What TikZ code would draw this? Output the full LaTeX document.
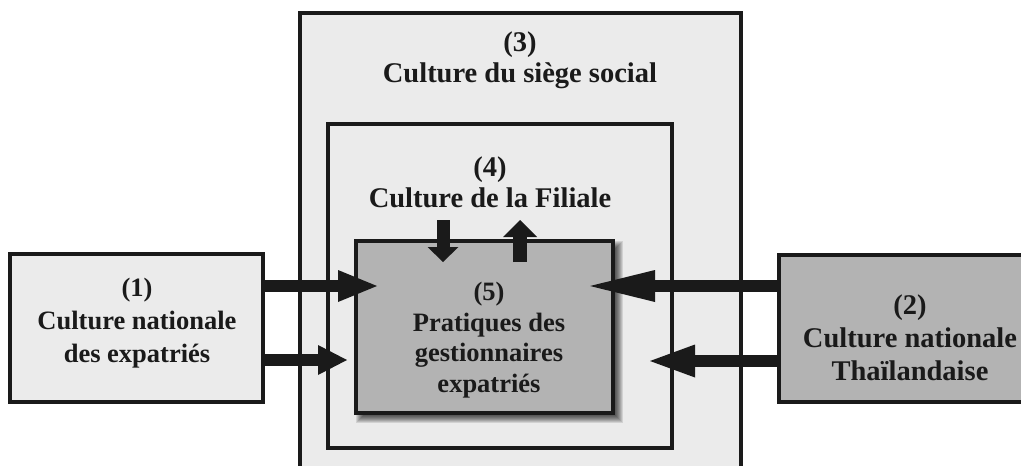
\documentclass[tikz,border=0pt]{standalone}
\usepackage{fontspec}
\setmainfont{Liberation Serif}
\usetikzlibrary{arrows.meta,calc}
\definecolor{paleface}{HTML}{EBEBEB}
\definecolor{greyface}{HTML}{B3B3B3}
\definecolor{ink}{HTML}{1A1A1A}
\pgfdeclarelayer{back}
\pgfdeclarelayer{shade}
\pgfsetlayers{back,shade,main}
\begin{document}
\begin{tikzpicture}[x=1pt,y=-1pt,
  frame/.style={draw=ink, line width=3.5pt, rectangle, inner sep=0pt, outer sep=0pt},
  pale/.style={frame, fill=paleface},
  dark/.style={frame, fill=greyface},
  bigtxt/.style={font=\bfseries\fontsize{28.5}{31}\selectfont, align=center, text=ink},
  widetxt/.style={font=\bfseries\fontsize{28.5}{33}\selectfont, align=center, text=ink},
  smalltxt/.style={font=\bfseries\fontsize{26.5}{33}\selectfont, align=center, text=ink},
  tighttxt/.style={font=\bfseries\fontsize{26.5}{30.5}\selectfont, align=center, text=ink},
  flow/.style={draw=ink, line width=12pt},
  upflow/.style={draw=ink, line width=14pt},
]
\useasboundingbox (0,0) rectangle (1021,466);
\clip (0,0) rectangle (1021,466);

% nested company boxes (headquarters box runs off the bottom)
\begin{pgfonlayer}{back}
  \node[pale, minimum width=441pt, minimum height=477pt] (b3) at (520.5,251.5) {};
  \node[pale, minimum width=344pt, minimum height=324pt] (b4) at (500,286) {};
\end{pgfonlayer}

% practices box with its soft shadow
\node[dark, minimum width=257pt, minimum height=172pt] (b5) at (484.5,327) {};
\begin{pgfonlayer}{shade}
  \foreach \k in {0,...,9}
    \fill[black, opacity=0.11]
      ($(b5.north west)+(9-\k,9-\k)$) rectangle ($(b5.south east)+(\k+0.5,\k+0.5)$);
\end{pgfonlayer}

% national culture boxes
\node[pale, minimum width=253pt, minimum height=148pt] (b1) at (136.5,328) {};
\node[dark, minimum width=262pt, minimum height=147pt] (b2) at (910,328.5) {};

% labels
\node[bigtxt] (t3) at (520,60) {(3)\\Culture du siège social};
\node[bigtxt] (t4) at (490,182) {(4)\\Culture de la Filiale};
\node[tighttxt] (t5) at (489,340) {(5)\\Pratiques des\\gestionnaires\\expatriés};
\node[smalltxt] (t1) at (137,323) {(1)\\Culture nationale\\des expatriés};
\node[widetxt] (t2) at (910,338) {(2)\\Culture nationale\\Thaïlandaise};

% arrow tips and free ends
\coordinate (l1tip) at (377,286);
\coordinate (l2tip) at (347,360);
\coordinate (r1tip) at (590,286);
\coordinate (r2tip) at (650,361);
\coordinate (dtop) at (443,220);
\coordinate (dtip) at (443,262);
\coordinate (ufoot) at (520,262);
\coordinate (utip) at (520,220);

% influences on the practices box
\draw[flow, -{Triangle[length=39pt,width=32pt,line width=0pt]}] (b1.east |- l1tip) -- (l1tip);
\draw[flow, -{Triangle[length=29pt,width=30pt,line width=0pt]}] (b1.east |- l2tip) -- (l2tip);
\draw[flow, -{Triangle[length=65pt,width=32pt,line width=0pt]}] (b2.west |- r1tip) -- (r1tip);
\draw[flow, -{Triangle[length=45pt,width=33pt,line width=0pt]}] (b2.west |- r2tip) -- (r2tip);
\draw[flow, line width=13pt, -{Triangle[length=15pt,width=31pt,line width=0pt]}] (dtop) -- (dtip);
\draw[upflow, -{Triangle[length=17pt,width=34pt,line width=0pt]}] (ufoot) -- (utip);
\end{tikzpicture}
\end{document}
